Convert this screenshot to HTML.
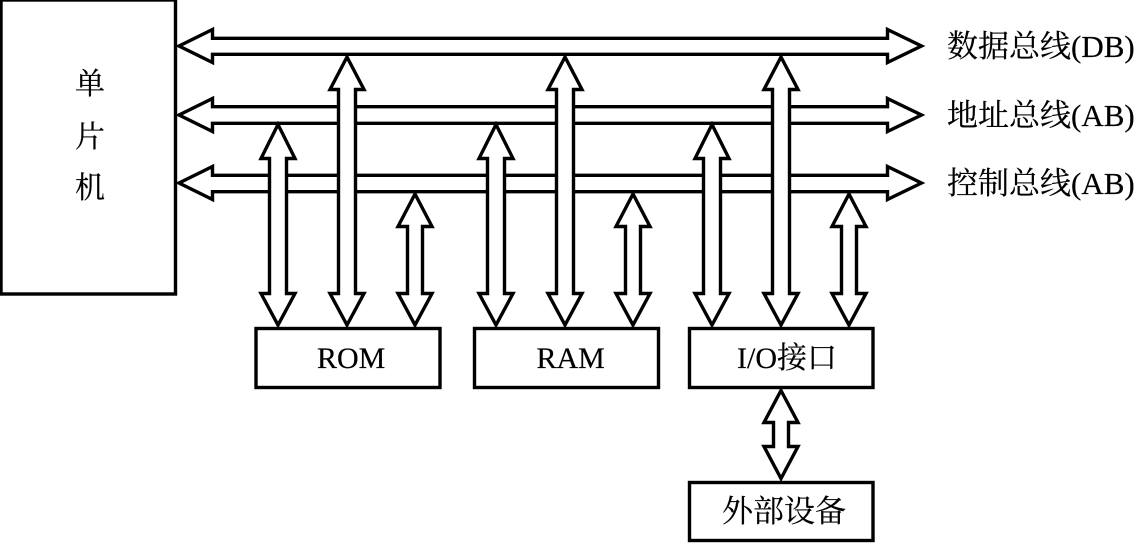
<!DOCTYPE html>
<html><head><meta charset="utf-8"><style>
html,body{margin:0;padding:0;background:#fff;width:1134px;height:543px;overflow:hidden}
svg{display:block}
.s{fill:#fff;stroke:#000;stroke-width:3.4;stroke-linejoin:miter;stroke-miterlimit:6}
text{font-family:"Liberation Serif","Noto Serif CJK SC",serif;fill:#000;stroke:#000;stroke-width:.2}
</style></head><body>
<svg width="1134" height="543" viewBox="0 0 1134 543" xmlns="http://www.w3.org/2000/svg">
<rect x="1" y="0" width="174.500" height="294" class="s"/>
<path class="s" d="M179 46L212.500 29.500V38.300H887.500V29.500L921.500 46L887.500 62.500V54.300H212.500V62.500Z"/>
<path class="s" d="M179 115L212.500 98.500V106.700H887.500V98.500L921.500 115L887.500 131.500V123.300H212.500V131.500Z"/>
<path class="s" d="M179 183L212.500 166.500V175.300H887.500V166.500L921.500 183L887.500 199.500V191.700H212.500V199.500Z"/>
<path class="s" d="M278 124.500L295 158.500H286.500V293.500H295L278 325L261 293.500H269.500V158.500H261Z"/>
<path class="s" d="M347 57L364 89.500H355.500V293.500H364L347 325L330 293.500H338.500V89.500H330Z"/>
<path class="s" d="M415 194L432 226.500H422.500V293.500H432L415 325L398 293.500H407.500V226.500H398Z"/>
<path class="s" d="M496 124.500L513 158.500H504.500V293.500H513L496 325L479 293.500H487.500V158.500H479Z"/>
<path class="s" d="M565 57L582 89.500H573.500V293.500H582L565 325L548 293.500H556.500V89.500H548Z"/>
<path class="s" d="M633 194L650 226.500H640.500V293.500H650L633 325L616 293.500H625.500V226.500H616Z"/>
<path class="s" d="M712 124.500L729 158.500H720.500V293.500H729L712 325L695 293.500H703.500V158.500H695Z"/>
<path class="s" d="M781 57L798 89.500H789.500V293.500H798L781 325L764 293.500H772.500V89.500H764Z"/>
<path class="s" d="M849 194L866 226.500H856.500V293.500H866L849 325L832 293.500H841.500V226.500H832Z"/>
<rect x="256" y="328.500" width="184" height="59" class="s"/>
<rect x="474.500" y="328.500" width="184" height="59" class="s"/>
<rect x="689.500" y="328.500" width="183.500" height="59" class="s"/>
<rect x="689.500" y="482.500" width="183.500" height="58" class="s"/>
<path class="s" d="M781 390.500L798 422.500H788.500V446.500H798L781 478.500L764 446.500H773.500V422.500H764Z"/>
<text x="75" y="94" font-size="30">单</text>
<text x="75" y="147" font-size="30">片</text>
<text x="75" y="198" font-size="30">机</text>
<text x="947" y="57" font-size="31">数据总线(DB)</text>
<text x="947" y="126" font-size="31">地址总线(AB)</text>
<text x="947" y="194" font-size="31">控制总线(AB)</text>
<text x="317" y="368" font-size="30">ROM</text>
<text x="536.500" y="368" font-size="30">RAM</text>
<text x="737" y="368" font-size="30">I/O接口</text>
<text x="722" y="522" font-size="31">外部设备</text>
</svg>
</body></html>
